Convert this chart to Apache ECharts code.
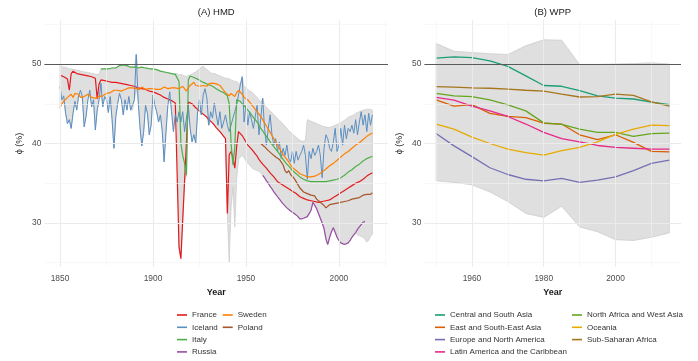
<!DOCTYPE html>
<html><head><meta charset="utf-8">
<script src="https://cdn.jsdelivr.net/npm/echarts@6/dist/echarts.min.js"></script>
<style>html,body{margin:0;padding:0;background:#fff}#c{width:698px;height:361px}</style>
</head><body><div id="c"></div>
<script>
// ---------- HMD (panel A), annual 1850-2018 ----------
const hmdStart = 1850;
const france = [48.6,48.5,48.4,48.3,48.1,46.7,48.8,49.1,49.0,48.8,
48.8,48.7,48.7,48.6,48.6,48.5,48.4,48.4,48.3,48.2,
45.6,47.5,48.0,47.9,47.9,47.8,47.8,47.8,47.7,47.7,
47.7,47.6,47.6,47.5,47.5,47.5,47.4,47.4,47.3,47.3,
47.2,47.1,47.0,47.0,46.9,46.8,46.8,46.7,46.6,46.6,
46.5,46.4,46.3,46.2,46.1,46.0,45.8,45.7,45.6,45.5,
45.4,45.3,45.1,44.9,27.0,25.5,30.4,35.3,40.2,45.2,
45.3,45.0,44.8,44.5,44.3,44.1,43.9,43.7,43.5,43.3,
43.0,42.8,42.6,42.3,42.0,41.8,41.5,41.2,40.9,40.6,
31.2,38.6,39.0,38.2,36.9,39.6,41.5,41.3,41.0,40.6,
40.2,39.8,39.6,39.3,39.0,38.7,38.4,38.0,37.7,37.4,
37.2,36.9,36.6,36.3,36.1,35.8,35.5,35.2,35.1,34.9,
34.7,34.6,34.4,34.3,34.1,34.0,33.9,33.7,33.5,33.3,
33.2,33.1,33.0,32.9,32.8,32.8,32.7,32.7,32.6,32.6,
32.6,32.7,32.7,32.8,32.8,32.9,33.0,33.2,33.3,33.5,
33.6,33.8,33.9,34.1,34.2,34.4,34.5,34.7,34.8,35.0,
35.1,35.2,35.4,35.5,35.7,35.9,36.0,36.2,36.3];
const iceland = [47.2,45.5,46.0,43.8,42.5,43.0,41.9,43.8,45.3,44.2,
46.0,46.7,45.9,42.1,43.4,45.5,46.7,44.6,45.5,41.7,
44.2,45.5,47.6,44.6,45.9,45.5,43.9,45.9,43.0,39.4,
43.4,45.0,46.3,45.5,43.6,45.5,44.2,45.9,44.2,44.2,
45.5,51.2,45.5,42.1,39.7,41.5,44.8,43.8,41.1,42.3,
46.1,44.8,44.0,42.7,43.6,41.5,37.7,41.5,44.8,46.5,
44.0,41.5,43.6,42.7,44.0,42.7,44.0,41.5,43.2,44.8,
41.9,40.2,41.1,40.0,44.0,45.5,43.6,46.1,46.9,45.7,
42.3,44.0,43.2,45.1,43.6,42.3,44.0,41.9,42.7,43.6,
42.3,41.5,42.3,43.2,44.0,44.8,46.1,47.4,48.4,42.7,
44.8,42.3,44.0,43.0,41.9,43.4,44.8,41.1,43.2,45.7,
41.9,39.8,41.9,43.6,41.1,39.8,40.6,39.0,40.2,38.1,
39.4,38.5,39.8,38.1,37.7,39.0,37.5,39.0,37.9,38.5,
39.0,39.8,38.5,35.5,39.0,38.1,39.4,38.5,39.0,39.8,
38.5,35.7,39.4,41.1,40.6,39.4,39.0,40.2,41.9,39.0,
39.8,41.9,39.8,42.3,40.6,41.9,41.5,42.3,41.3,43.0,
41.1,42.7,44.0,42.3,43.6,41.5,43.8,42.3,43.6];
const sweden = [44.5,45.0,45.3,45.5,45.8,45.9,46.2,45.8,46.3,46.5,
46.2,45.8,45.7,45.9,46.0,46.2,46.1,45.8,45.6,45.7,
45.8,45.9,46.1,46.0,46.2,46.3,46.5,46.4,46.6,46.7,
46.5,46.7,46.8,46.6,46.7,46.8,46.9,47.0,46.8,47.0,
47.1,46.9,47.0,46.8,47.1,47.0,46.8,47.0,46.9,46.7,
46.9,47.0,46.8,46.6,46.8,46.9,47.1,47.0,46.9,47.1,
47.0,46.8,47.0,47.1,46.9,47.0,47.2,47.1,46.6,47.0,
47.3,47.2,47.7,47.3,47.1,47.2,47.1,47.3,47.4,47.2,
47.5,47.3,47.6,47.8,47.5,47.6,47.3,47.0,46.7,46.4,
46.2,46.0,46.3,46.1,45.9,46.4,46.7,46.5,46.2,45.8,
45.7,45.5,45.2,44.9,44.6,44.3,44.0,43.7,43.4,43.0,
42.6,42.2,41.8,41.4,41.0,40.6,40.2,39.8,39.4,39.0,
38.6,38.3,38.0,37.7,37.3,37.0,36.8,36.6,36.4,36.2,
36.1,36.0,35.9,35.8,35.8,35.8,35.8,35.9,36.0,36.1,
36.2,36.4,36.6,36.8,37.0,37.2,37.3,37.5,37.7,37.9,
38.1,38.3,38.5,38.7,38.8,39.0,39.2,39.4,39.6,39.8,
40.0,40.1,40.3,40.5,40.7,40.9,41.0,41.2,41.3];
const italyStart = 1872;
const italy = [49.4,49.3,49.4,49.3,49.4,49.4,49.5,49.6,49.5,49.7,
49.8,49.9,49.9,49.7,49.8,49.7,49.6,49.7,49.6,49.7,
49.5,49.6,49.6,49.5,49.5,49.6,49.4,49.4,49.4,49.3,
49.3,49.2,49.1,49.1,49.0,49.0,48.9,48.9,48.8,48.7,
48.7,48.5,47.8,40.0,38.5,37.5,36.0,48.0,48.5,48.4,
48.3,48.2,48.1,48.0,47.8,47.7,47.6,47.5,47.4,47.3,
47.2,47.0,46.9,46.8,46.6,46.6,46.4,46.2,46.0,45.0,
40.0,37.3,39.5,45.5,45.6,45.3,45.0,44.8,44.5,44.2,
43.9,43.6,43.3,43.0,42.7,42.3,41.9,41.6,41.2,40.9,
40.6,40.2,39.9,39.6,39.3,39.0,38.7,38.3,38.0,37.7,
37.4,37.2,36.9,36.6,36.4,36.2,36.0,35.8,35.6,35.5,
35.4,35.3,35.2,35.2,35.2,35.2,35.1,35.2,35.2,35.2,
35.2,35.2,35.2,35.3,35.3,35.4,35.4,35.5,35.6,35.7,
35.9,36.0,36.2,36.4,36.5,36.7,36.9,37.1,37.2,37.4,
37.6,37.8,37.9,38.1,38.2,38.3,38.4];
const polandStart = 1958;
const poland = [40.0,39.8,39.6,39.4,39.1,38.9,38.7,38.5,38.3,38.2,
38.0,37.8,37.3,36.6,36.3,36.6,36.1,35.9,35.6,35.2,
34.8,34.4,34.2,33.9,34.1,33.7,33.8,33.5,33.3,33.4,
33.0,32.8,32.6,32.4,32.2,31.9,32.1,32.3,32.2,32.4,
32.3,32.5,32.4,32.6,32.5,32.7,32.6,32.8,32.9,33.0,
33.1,33.1,33.3,33.2,33.4,33.5,33.4,33.6,33.7,33.6,
33.8];
const russiaStart = 1959;
const russia = [36.0,35.7,35.3,35.0,34.6,34.3,33.9,33.6,33.3,33.0,
32.7,32.4,32.2,31.9,31.7,31.5,31.3,31.2,31.0,30.8,
30.5,30.4,30.6,30.7,30.8,31.0,31.6,32.6,32.5,31.8,
31.2,30.6,30.0,29.3,28.0,27.3,28.2,28.9,29.4,29.2,
28.2,27.8,27.5,27.4,27.3,27.4,27.5,27.8,28.2,28.5,
28.8,29.2,29.5,29.8,30.1,30.2];
// envelope of the other HMD countries (not drawn as lines)
const otherHigh = [49.8,49.7,49.6,49.6,49.5,49.4,49.4,49.3,49.3,49.2,49.2,49.1,49.1,49.0,49.0,48.9,48.9,48.8,48.8,48.7,48.7,48.7,
48.8,48.8,48.8,48.8,48.8,48.8,48.8,48.8,48.8,48.8,48.8,48.8,48.8,48.8,48.8,48.8,48.8,48.8,48.8,48.8,48.8,48.8,48.8,48.8,48.8,48.8,48.8,48.8,48.8,48.8,48.8,48.8,48.8,48.8,48.8,48.8,48.8,48.8,48.8,48.8,48.8,48.8,
48.6,48.7,48.6,48.5,48.4,48.6,
48.6,48.7,48.9,49.0,49.2,49.4,49.6,49.7,49.5,49.3,49.1,48.9,48.8,48.8,48.7,48.6,48.5,48.4,48.3,48.2,
48.2,48.1,48.0,47.9,47.8,47.8,47.6,47.4,47.2,47.1,47.0,46.8,46.6,46.5,46.3,46.0,45.8,45.5,45.2,
45.0,44.8,44.6,44.3,44.1,43.9,43.6,43.4,43.1,42.9,42.7,42.4,42.2,41.9,41.6,41.4,41.2,41.0,40.8,40.6,40.4,40.3,40.3,40.4,
43.0,42.9,42.8,42.7,42.6,42.5,42.4,42.3,42.2,42.1,42.1,42.0,42.0,42.1,42.2,42.3,42.4,42.5,42.6,42.8,42.9,43.1,43.3,43.4,43.5,43.6,43.8,43.9,44.0,44.1,44.2,44.2,44.3,44.3,44.3,44.2];
const otherLowYears = [1941,1942,1943,1944,1945,1946,1947,1948,1949,1950,1951,1952,1953,1954,1955,1956,1957,1958,2010,2011,2012,2013,2014,2015,2016,2017,2018];
const otherLow = [25.1,32.0,34.5,29.5,35.5,38.0,38.3,38.5,38.2,37.8,37.5,37.3,37.0,36.8,36.7,36.6,36.5,36.3,28.5,28.4,28.3,28.2,28.0,27.6,27.8,28.3,28.6];

// ---------- WPP (panel B), 5-yearly 1950-2015 ----------
const wppYears = [1950,1955,1960,1965,1970,1975,1980,1985,1990,1995,2000,2005,2010,2015];
const centralSouthAsia = [50.75,50.9,50.8,50.4,49.7,48.5,47.3,47.2,46.65,46.0,45.7,45.6,45.2,44.9];
const eastSouthEastAsia = [45.5,44.7,44.9,43.8,43.4,43.25,42.55,42.45,41.1,40.5,41.1,40.15,39.0,38.95];
const europeNorthAmerica = [41.25,39.7,38.35,36.95,36.1,35.5,35.3,35.6,35.1,35.4,35.8,36.6,37.5,37.9];
const latinAmerica = [45.8,45.45,44.7,44.1,43.4,42.45,41.4,40.6,40.2,39.75,39.5,39.4,39.3,39.3];
const northAfricaWestAsia = [46.3,46.0,45.9,45.5,44.85,44.1,42.6,42.4,41.8,41.4,41.4,40.9,41.25,41.3];
const oceania = [42.45,41.8,40.8,40.0,39.3,38.85,38.55,39.1,39.5,40.2,41.15,41.8,42.3,42.25];
const subSaharanAfrica = [47.15,47.1,47.0,46.95,46.85,46.7,46.6,46.2,45.85,45.9,46.2,46.05,45.25,44.7];
const wppUpper = [52.6,51.6,51.45,51.3,51.2,52.3,53.05,53.0,49.95,49.95,50.0,50.05,50.15,50.0];
const wppLower = [35.3,35.1,34.8,33.9,32.7,31.2,30.7,32.1,29.5,28.9,27.9,27.8,28.2,28.75];

// ---------- axes / ticks ----------
const hmdTickLabels = [1850,1900,1950,2000];
const hmdMinorX = [1875,1925,1975,2025];
const wppTickLabels = [1960,1980,2000];
const wppMinorX = [1950,1970,1990,2010];
const yTickLabels = [30,40,50];
const yMinor = [25,35,45,55];

// ---------- build ----------
const FONT = 'Liberation Sans, Arial, Helvetica, sans-serif';
const hmdYears = [];
for (let y = hmdStart; y < hmdStart + france.length; y++) hmdYears.push(y);
function pairs(start, arr) { return arr.map((v, i) => [start + i, v]); }
function at(start, arr, y) { const i = y - start; return (i >= 0 && i < arr.length) ? arr[i] : null; }
const lowMap = {}; otherLowYears.forEach((y, i) => { lowMap[y] = otherLow[i]; });
const hmdHigh = [], hmdLow = [];
hmdYears.forEach((y, i) => {
  const vals = [at(hmdStart, france, y), at(hmdStart, iceland, y), at(hmdStart, sweden, y),
    at(italyStart, italy, y), at(polandStart, poland, y), at(russiaStart, russia, y)].filter(v => v != null);
  hmdHigh.push(Math.max(otherHigh[i], ...vals));
  hmdLow.push(Math.min(lowMap[y] != null ? lowMap[y] : 99, ...vals));
});

function bandSeries(xs, lo, hi, xi) {
  return {
    type: 'custom', xAxisIndex: xi, yAxisIndex: xi, z: 2, silent: true,
    data: [[xs[0], lo[0]]],
    renderItem: function (params, api) {
      const pts = [];
      for (let i = 0; i < xs.length; i++) pts.push(api.coord([xs[i], hi[i]]));
      for (let i = xs.length - 1; i >= 0; i--) pts.push(api.coord([xs[i], lo[i]]));
      return { type: 'polygon', shape: { points: pts }, style: { fill: '#dfdfdf', stroke: '#c9c9c9', lineWidth: 0.7 } };
    }
  };
}
function gridSeries(xi, majX, minX) {
  const d = [];
  majX.forEach(v => d.push({ xAxis: v, lineStyle: { color: '#ebebeb', width: 1.1, type: 'solid' } }));
  minX.forEach(v => d.push({ xAxis: v, lineStyle: { color: '#f3f3f3', width: 0.6, type: 'solid' } }));
  yTickLabels.forEach(v => d.push({ yAxis: v, lineStyle: { color: '#ebebeb', width: 1.1, type: 'solid' } }));
  yMinor.forEach(v => d.push({ yAxis: v, lineStyle: { color: '#f3f3f3', width: 0.6, type: 'solid' } }));
  return { type: 'line', xAxisIndex: xi, yAxisIndex: xi, data: [], z: 1, silent: true,
    markLine: { silent: true, symbol: ['none', 'none'], label: { show: false }, animation: false, data: d } };
}
function hlineSeries(xi) {
  return { type: 'line', xAxisIndex: xi, yAxisIndex: xi, data: [], z: 3, silent: true,
    markLine: { silent: true, symbol: ['none', 'none'], label: { show: false }, animation: false,
      data: [{ yAxis: 50, lineStyle: { color: '#5a5a5a', width: 1.2, type: 'solid' } }] } };
}
function lineS(name, data, color, xi, w) {
  return { type: 'line', name: name, data: data, xAxisIndex: xi, yAxisIndex: xi, z: 4,
    showSymbol: false, symbol: 'none', lineStyle: { color: color, width: w }, itemStyle: { color: color } };
}

const GT = 20.3, GH = 246.4;
const xAxisCommon = {
  type: 'value', axisLine: { show: false }, axisTick: { show: false }, splitLine: { show: false },
  axisLabel: { color: '#4d4d4d', fontSize: 8.4, fontFamily: FONT, margin: 8, formatter: v => String(v) },
  name: 'Year', nameLocation: 'middle', nameGap: 19,
  nameTextStyle: { color: '#1a1a1a', fontSize: 9, fontWeight: 'bold', fontFamily: FONT }
};
const yAxisCommon = {
  type: 'value', min: 24.5, max: 55.5, axisLine: { show: false }, axisTick: { show: false }, splitLine: { show: false },
  axisLabel: { color: '#4d4d4d', fontSize: 8.4, fontFamily: FONT, margin: 3, customValues: yTickLabels, formatter: v => String(v) },
  name: 'ϕ (%)', nameLocation: 'middle', nameGap: 20,
  nameTextStyle: { color: '#1a1a1a', fontSize: 9, fontFamily: FONT }
};
const legendCommon = {
  orient: 'vertical', top: 309, padding: 0, itemGap: 0.3, itemWidth: 10, itemHeight: 1.6, icon: 'rect',
  selectedMode: false, textStyle: { fontSize: 8, fontFamily: FONT, color: '#333', lineHeight: 12 }
};

const option = {
  animation: false,
  backgroundColor: '#ffffff',
  grid: [
    { left: 44.4, top: GT, width: 343.6, height: GH },
    { left: 424.4, top: GT, width: 256.6, height: GH }
  ],
  xAxis: [
    Object.assign({}, xAxisCommon, { gridIndex: 0, min: 1841.6, max: 2026.4,
      axisLabel: Object.assign({}, xAxisCommon.axisLabel, { customValues: hmdTickLabels }) }),
    Object.assign({}, xAxisCommon, { gridIndex: 1, min: 1946.75, max: 2018.25,
      axisLabel: Object.assign({}, xAxisCommon.axisLabel, { customValues: wppTickLabels }) })
  ],
  yAxis: [
    Object.assign({}, yAxisCommon, { gridIndex: 0 }),
    Object.assign({}, yAxisCommon, { gridIndex: 1 })
  ],
  graphic: [
    { type: 'text', x: 216.2, y: 12, silent: true, style: { text: '(A) HMD', textAlign: 'center', textVerticalAlign: 'middle', fontSize: 9.5, fontFamily: FONT, fill: '#1a1a1a' } },
    { type: 'text', x: 552.7, y: 12, silent: true, style: { text: '(B) WPP', textAlign: 'center', textVerticalAlign: 'middle', fontSize: 9.5, fontFamily: FONT, fill: '#1a1a1a' } }
  ],
  legend: [
    Object.assign({}, legendCommon, { left: 177, data: ['France', 'Iceland', 'Italy', 'Russia'] }),
    Object.assign({}, legendCommon, { left: 222.7, data: ['Sweden', 'Poland'] }),
    Object.assign({}, legendCommon, { left: 435, data: ['Central and South Asia', 'East and South-East Asia', 'Europe and North America', 'Latin America and the Caribbean'] }),
    Object.assign({}, legendCommon, { left: 572, data: ['North Africa and West Asia', 'Oceania', 'Sub-Saharan Africa'] })
  ],
  series: [
    gridSeries(0, hmdTickLabels, hmdMinorX),
    gridSeries(1, wppTickLabels, wppMinorX),
    bandSeries(hmdYears, hmdLow, hmdHigh, 0),
    bandSeries(wppYears, wppLower, wppUpper, 1),
    hlineSeries(0), hlineSeries(1),
    lineS('France', pairs(hmdStart, france), '#e41a1c', 0, 1.2),
    lineS('Iceland', pairs(hmdStart, iceland), '#5a8fc2', 0, 1.0),
    lineS('Italy', pairs(italyStart, italy), '#4daf4a', 0, 1.2),
    lineS('Russia', pairs(russiaStart, russia), '#984ea3', 0, 1.2),
    lineS('Sweden', pairs(hmdStart, sweden), '#ff7f00', 0, 1.2),
    lineS('Poland', pairs(polandStart, poland), '#a65628', 0, 1.2),
    lineS('Central and South Asia', wppYears.map((y, i) => [y, centralSouthAsia[i]]), '#1b9e77', 1, 1.3),
    lineS('East and South-East Asia', wppYears.map((y, i) => [y, eastSouthEastAsia[i]]), '#d95f02', 1, 1.3),
    lineS('Europe and North America', wppYears.map((y, i) => [y, europeNorthAmerica[i]]), '#7570b3', 1, 1.3),
    lineS('Latin America and the Caribbean', wppYears.map((y, i) => [y, latinAmerica[i]]), '#e7298a', 1, 1.3),
    lineS('North Africa and West Asia', wppYears.map((y, i) => [y, northAfricaWestAsia[i]]), '#66a61e', 1, 1.3),
    lineS('Oceania', wppYears.map((y, i) => [y, oceania[i]]), '#e6ab02', 1, 1.3),
    lineS('Sub-Saharan Africa', wppYears.map((y, i) => [y, subSaharanAfrica[i]]), '#a6761d', 1, 1.3)
  ]
};
const chart = echarts.init(document.getElementById('c'), null, { renderer: 'canvas' });
chart.setOption(option);
</script></body></html>
